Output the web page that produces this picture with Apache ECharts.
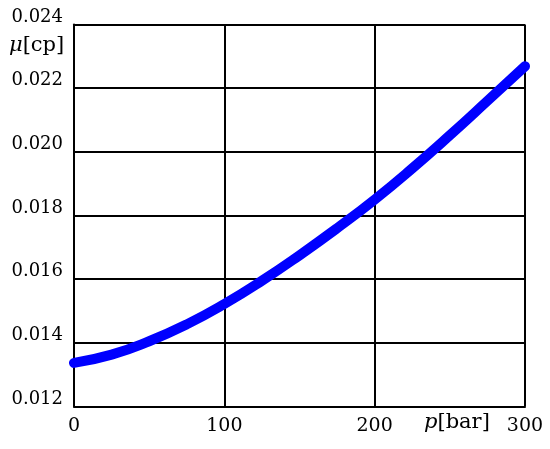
<!DOCTYPE html>
<html>
<head>
<meta charset="utf-8">
<script src="https://cdn.jsdelivr.net/npm/echarts@6/dist/echarts.min.js"></script>
<style>html,body{margin:0;padding:0;background:#fff;}#c{width:550px;height:449px;}</style>
</head>
<body>
<div id="c"></div>
<script>
var pressure = [0, 25, 50, 75, 100, 125, 150, 175, 200, 225, 250, 275, 300];
var viscosity = [0.01337, 0.01363, 0.01405, 0.01458, 0.01522, 0.01595, 0.01675, 0.01760, 0.01850, 0.01948, 0.02052, 0.02160, 0.02269];
var xTicks = [0, 100, 200, 300];
var yTicks = [0.012, 0.014, 0.016, 0.018, 0.020, 0.022, 0.024];

var font = '"DejaVu Serif", "Liberation Serif", serif';
var chart = echarts.init(document.getElementById('c'), null, {renderer: 'canvas'});
var data = pressure.map(function (p, i) { return [p, viscosity[i]]; });
chart.setOption({
  animation: false,
  backgroundColor: '#ffffff',
  grid: {left: 74, right: 25, top: 24.5, bottom: 42.5, containLabel: false},
  xAxis: {
    type: 'value', min: xTicks[0], max: xTicks[xTicks.length - 1], interval: 100,
    axisLine: {show: true, lineStyle: {color: '#000', width: 2}},
    axisTick: {show: false},
    splitLine: {show: true, lineStyle: {color: '#000', width: 2}},
    axisLabel: {color: '#000', fontFamily: font, fontSize: 19, margin: 10}
  },
  yAxis: {
    type: 'value', min: yTicks[0], max: yTicks[yTicks.length - 1], interval: 0.002,
    axisLine: {show: true, lineStyle: {color: '#000', width: 2}},
    axisTick: {show: false},
    splitLine: {show: true, lineStyle: {color: '#000', width: 2}},
    axisLabel: {color: '#000', fontFamily: font, fontSize: 18, margin: 11,
      verticalAlign: 'bottom', lineHeight: 15,
      formatter: function (v) { return v.toFixed(3); }}
  },
  graphic: [
    {type: 'text', left: 9, top: 35, style: {
      text: '{i|μ}[cp]', fill: '#000', font: '21px ' + font,
      rich: {i: {fontStyle: 'italic', fontFamily: font, fontSize: 21, fill: '#000'}}
    }},
    {type: 'text', left: 424, top: 412, style: {
      text: '{i|p}[bar]', fill: '#000', font: '21px ' + font,
      rich: {i: {fontStyle: 'italic', fontFamily: font, fontSize: 21, fill: '#000'}}
    }}
  ],
  series: [{
    type: 'line', data: data, smooth: true, showSymbol: false, symbol: 'none',
    lineStyle: {color: '#0000ff', width: 10, cap: 'round', join: 'round'},
    z: 5
  }]
});
</script>
</body>
</html>
